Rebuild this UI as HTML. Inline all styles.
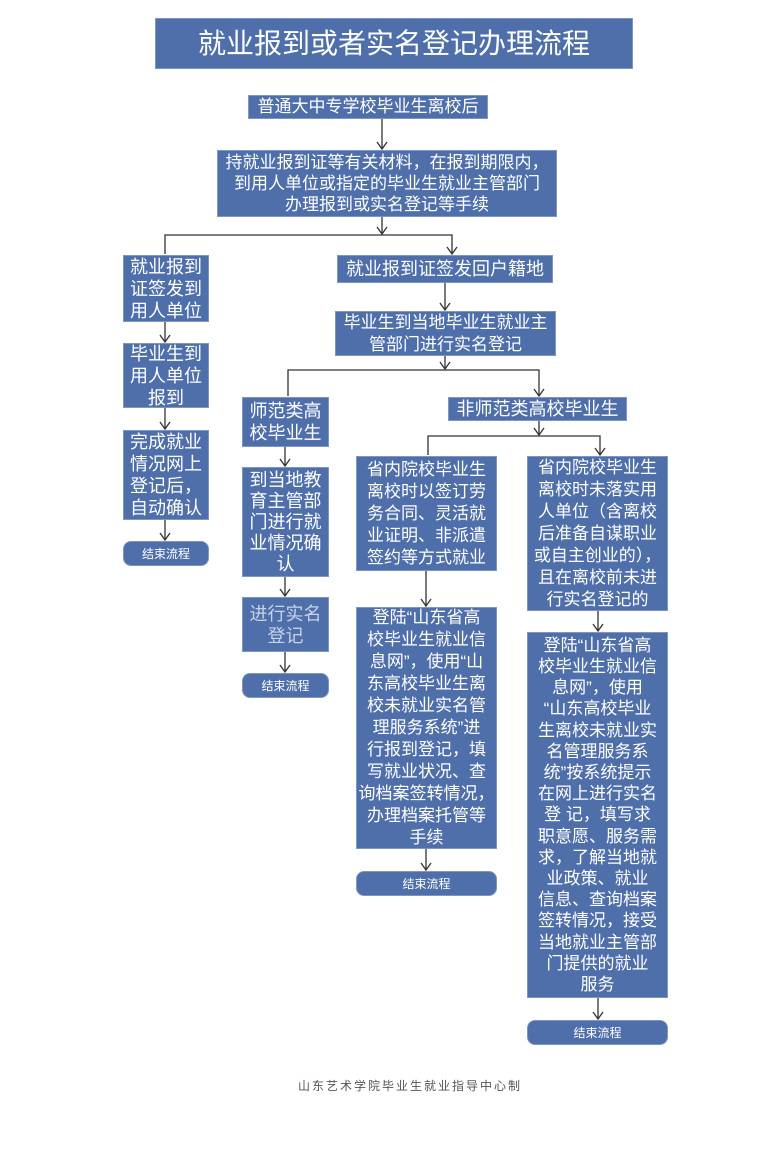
<!DOCTYPE html>
<html><head><meta charset="utf-8"><style>
body{margin:0;width:783px;height:1152px;background:#fff;position:relative;overflow:hidden;font-family:"Liberation Sans","Noto Sans CJK SC",sans-serif}
.b{position:absolute;background:#4f6faa;color:#fff;display:flex;align-items:center;justify-content:center;text-align:center;font-size:17px;line-height:22px;box-sizing:border-box;border:1px solid #7f95c2;white-space:nowrap}
.e{border-radius:8px;font-size:12px;line-height:14px}
svg{position:absolute;left:0;top:0}
</style></head><body>
<svg width="783" height="1152" stroke="#333" stroke-width="1.3" fill="none">
<defs><marker id="a" markerWidth="12" markerHeight="12" refX="6" refY="10" orient="0" markerUnits="userSpaceOnUse"><path d="M1,3 L6,10 L11,3" stroke="#333" fill="none" stroke-width="1.3"/></marker></defs>
<line x1="382" y1="119" x2="382" y2="149" marker-end="url(#a)"/>
<line x1="382" y1="217" x2="382" y2="234" marker-end="url(#a)"/>
<polyline points="165,254 165,235 452,235 452,254" marker-end="url(#a)"/>
<line x1="165" y1="322" x2="165" y2="342" marker-end="url(#a)"/>
<line x1="165" y1="408" x2="165" y2="429" marker-end="url(#a)"/>
<line x1="165" y1="520" x2="165" y2="540" marker-end="url(#a)"/>
<line x1="445" y1="283" x2="445" y2="310" marker-end="url(#a)"/>
<line x1="445" y1="356" x2="445" y2="369" marker-end="url(#a)"/>
<polyline points="288,396 288,370 539,370 539,396" marker-end="url(#a)"/>
<line x1="539" y1="421" x2="539" y2="435" marker-end="url(#a)"/>
<polyline points="428,455 428,436 600,436 600,455" marker-end="url(#a)"/>
<line x1="285" y1="447" x2="285" y2="466" marker-end="url(#a)"/>
<line x1="285" y1="577" x2="285" y2="596" marker-end="url(#a)"/>
<line x1="285" y1="652" x2="285" y2="672" marker-end="url(#a)"/>
<line x1="426" y1="571" x2="426" y2="606" marker-end="url(#a)"/>
<line x1="426" y1="849" x2="426" y2="870" marker-end="url(#a)"/>
<line x1="598" y1="611" x2="598" y2="631" marker-end="url(#a)"/>
<line x1="598" y1="998" x2="598" y2="1019" marker-end="url(#a)"/>
</svg>
<div class="b" style="left:155px;top:18px;width:478px;height:51px;font-size:28px">就业报到或者实名登记办理流程</div>
<div class="b" style="left:248px;top:95px;width:240px;height:24px">普通大中专学校毕业生离校后</div>
<div class="b" style="left:217px;top:150px;width:340px;height:67px;line-height:21px">持就业报到证等有关材料，在报到期限内，<br>到用人单位或指定的毕业生就业主管部门<br>办理报到或实名登记等手续</div>
<div class="b" style="left:123px;top:255px;width:86px;height:67px;font-size:18px">就业报到<br>证签发到<br>用人单位</div>
<div class="b" style="left:123px;top:343px;width:86px;height:65px;font-size:18px">毕业生到<br>用人单位<br>报到</div>
<div class="b" style="left:123px;top:430px;width:86px;height:90px;font-size:18px">完成就业<br>情况网上<br>登记后，<br>自动确认</div>
<div class="b e" style="left:123px;top:541px;width:86px;height:25px">结束流程</div>
<div class="b" style="left:337px;top:255px;width:216px;height:28px;font-size:18px">就业报到证签发回户籍地</div>
<div class="b" style="left:335px;top:311px;width:221px;height:45px">毕业生到当地毕业生就业主<br>管部门进行实名登记</div>
<div class="b" style="left:242px;top:397px;width:87px;height:50px;font-size:18px">师范类高<br>校毕业生</div>
<div class="b" style="left:448px;top:397px;width:179px;height:24px;font-size:18px">非师范类高校毕业生</div>
<div class="b" style="left:242px;top:467px;width:87px;height:110px;font-size:18px;line-height:21px">到当地教<br>育主管部<br>门进行就<br>业情况确<br>认</div>
<div class="b" style="left:242px;top:597px;width:87px;height:55px;font-size:18px;color:#c9d3e6">进行实名<br>登记</div>
<div class="b e" style="left:242px;top:673px;width:87px;height:25px">结束流程</div>
<div class="b" style="left:356px;top:456px;width:141px;height:115px">省内院校毕业生<br>离校时以签订劳<br>务合同、灵活就<br>业证明、非派遣<br>签约等方式就业</div>
<div class="b" style="left:527px;top:456px;width:141px;height:155px">省内院校毕业生<br>离校时未落实用<br>人单位（含离校<br>后准备自谋职业<br>或自主创业的），<br>且在离校前未进<br>行实名登记的</div>
<div class="b" style="left:356px;top:607px;width:141px;height:242px">登陆“山东省高<br>校毕业生就业信<br>息网”，使用“山<br>东高校毕业生离<br>校未就业实名管<br>理服务系统”进<br>行报到登记，填<br>写就业状况、查<br>询档案签转情况，<br>办理档案托管等<br>手续</div>
<div class="b e" style="left:356px;top:871px;width:141px;height:25px">结束流程</div>
<div class="b" style="left:527px;top:632px;width:141px;height:366px;line-height:21.2px">登陆“山东省高<br>校毕业生就业信<br>息网”，使用<br>“山东高校毕业<br>生离校未就业实<br>名管理服务系<br>统”按系统提示<br>在网上进行实名<br>登 记，填写求<br>职意愿、服务需<br>求，了解当地就<br>业政策、就业<br>信息、查询档案<br>签转情况，接受<br>当地就业主管部<br>门提供的就业<br>服务</div>
<div class="b e" style="left:527px;top:1020px;width:141px;height:25px">结束流程</div>
<div style="position:absolute;left:260px;top:1077px;width:300px;text-align:center;font-size:12px;letter-spacing:2px;color:#555;white-space:nowrap">山东艺术学院毕业生就业指导中心制</div>
</body></html>
